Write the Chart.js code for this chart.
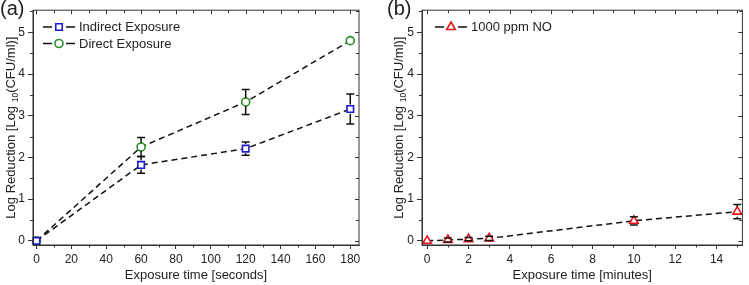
<!DOCTYPE html>
<html>
<head>
<meta charset="utf-8">
<script src="https://cdn.jsdelivr.net/npm/chart.js@4.4.1/dist/chart.umd.min.js"></script>
<style>
  body { margin: 0; background: #fff; }
  #wrap { position: relative; width: 749px; height: 285px; }
  .panel { position: absolute; top: 0; height: 285px; }
</style>
</head>
<body>
<div id="wrap">
  <div class="panel" style="left:0;width:375px"><canvas id="chartA"></canvas></div>
  <div class="panel" style="left:375px;width:374px"><canvas id="chartB"></canvas></div>
</div>
<script>
// panel (a) data
const timeSeconds = [0, 60, 120, 180];
const indirectExposure = [0, 1.82, 2.21, 3.16];
const indirectErr = [0, 0.2, 0.16, 0.36];
const directExposure = [0, 2.25, 3.33, 4.8];
const directErr = [0, 0.23, 0.3, 0];
const ticksSeconds = [0, 20, 40, 60, 80, 100, 120, 140, 160, 180];

// panel (b) data
const timeMinutes = [0, 1, 2, 3, 10, 15];
const no1000 = [0, 0.02, 0.04, 0.06, 0.48, 0.7];
const no1000Err = [0, 0.05, 0.04, 0.05, 0.1, 0.17];
const ticksMinutes = [0, 2, 4, 6, 8, 10, 12, 14];

const ticksLog = [0, 1, 2, 3, 4, 5];

const FONT = "'Liberation Sans', Arial, sans-serif";
const INK = '#222';

const toPoints = (xs, ys) => xs.map((x, i) => ({ x: x, y: ys[i] }));

// hollow marker like origin
function drawMarker(ctx, style, x, y, r, color) {
  ctx.save();
  ctx.setLineDash([]);
  ctx.lineWidth = 1.6;
  ctx.strokeStyle = color;
  ctx.fillStyle = '#fff';
  ctx.beginPath();
  if (style === 'rect') {
    const s = r * Math.SQRT1_2;
    ctx.rect(x - s, y - s, 2 * s, 2 * s);
  } else if (style === 'triangle') {
    ctx.moveTo(x, y - r);
    ctx.lineTo(x + r * 0.866, y + r * 0.5);
    ctx.lineTo(x - r * 0.866, y + r * 0.5);
    ctx.closePath();
  } else {
    ctx.arc(x, y, r, 0, Math.PI * 2);
  }
  ctx.fill();
  ctx.stroke();
  ctx.restore();
}

const framePlugin = {
  id: 'frame',
  afterDatasetsDraw(chart) {
    // error bars from the marker edge outwards
    const ctx = chart.ctx;
    const y = chart.scales.y;
    ctx.save();
    ctx.strokeStyle = '#111';
    ctx.lineWidth = 1.5;
    chart.data.datasets.forEach((ds, di) => {
      const meta = chart.getDatasetMeta(di);
      ds.data.forEach((p, i) => {
        const err = ds.errors[i];
        if (!err) return;
        const px = meta.data[i].x;
        const py = meta.data[i].y;
        const top = y.getPixelForValue(p.y + err);
        const bot = y.getPixelForValue(p.y - err);
        const r = ds.pointRadius;
        ctx.beginPath();
        if (py - r > top) { ctx.moveTo(px, top); ctx.lineTo(px, py - r); }
        if (py + r < bot) { ctx.moveTo(px, py + r); ctx.lineTo(px, bot); }
        ctx.moveTo(px - 4, top); ctx.lineTo(px + 4, top);
        ctx.moveTo(px - 4, bot); ctx.lineTo(px + 4, bot);
        ctx.stroke();
      });
    });
    ctx.restore();
  },
  afterDraw(chart, args, opts) {
    const ctx = chart.ctx;
    const { left, right, top, bottom } = chart.chartArea;
    const xs = chart.scales.x, ys = chart.scales.y;
    ctx.save();
    ctx.strokeStyle = '#333';
    ctx.lineWidth = 1;

    // box
    ctx.strokeRect(left, top, right - left, bottom - top);

    // minor ticks outside, mirrored ticks inside
    ctx.beginPath();
    for (let v = opts.xMinor; v <= xs.max; v += opts.xMinor) {
      const px = Math.round(xs.getPixelForValue(v)) + 0.5;
      const major = opts.xTicks.includes(v);
      if (!major) { ctx.moveTo(px, bottom); ctx.lineTo(px, bottom + 2.5); }
      ctx.moveTo(px, top); ctx.lineTo(px, top + (major ? 4 : 3));
    }
    ctx.moveTo(Math.round(xs.getPixelForValue(0)) + 0.5, top);
    ctx.lineTo(Math.round(xs.getPixelForValue(0)) + 0.5, top + 4);
    for (let v = 0; v <= ys.max; v += 0.5) {
      const py = Math.round(ys.getPixelForValue(v)) + 0.5;
      const major = v % 1 === 0;
      if (!major) { ctx.moveTo(left, py); ctx.lineTo(left - 3, py); }
      ctx.moveTo(right, py); ctx.lineTo(right - (major ? 4 : 3), py);
    }
    ctx.stroke();

    // legend
    ctx.font = '13px ' + FONT;
    ctx.fillStyle = INK;
    ctx.textBaseline = 'middle';
    chart.data.datasets.forEach((ds, i) => {
      const ly = opts.legendY + i * 16.5;
      const lx = opts.legendX;
      ctx.strokeStyle = '#111';
      ctx.lineWidth = 1.5;
      ctx.beginPath();
      ctx.moveTo(lx, ly); ctx.lineTo(lx + 9, ly);
      ctx.moveTo(lx + 23, ly); ctx.lineTo(lx + 32, ly);
      ctx.stroke();
      drawMarker(ctx, ds.pointStyle, lx + 16, ly, ds.pointRadius, ds.pointBorderColor);
      ctx.fillText(ds.label, lx + 36, ly + 0.5);
    });

    // panel letter
    ctx.font = '20px ' + FONT;
    ctx.textBaseline = 'top';
    ctx.fillText(opts.letter, opts.letterX, -1);

    // y title with subscript
    const p1 = 'Log Reduction [Log ', p2 = '10', p3 = '(CFU/ml)]';
    ctx.translate(opts.yTitleX, (top + bottom) / 2);
    ctx.rotate(-Math.PI / 2);
    ctx.textBaseline = 'alphabetic';
    ctx.font = '13px ' + FONT;
    const w1 = ctx.measureText(p1).width, w3 = ctx.measureText(p3).width;
    ctx.font = '8.5px ' + FONT;
    const w2 = ctx.measureText(p2).width;
    let tx = -(w1 + w2 + w3) / 2;
    ctx.font = '13px ' + FONT;
    ctx.fillText(p1, tx, 5);
    ctx.font = '8.5px ' + FONT;
    ctx.fillText(p2, tx + w1, 8);
    ctx.font = '13px ' + FONT;
    ctx.fillText(p3, tx + w1 + w2, 5);
    ctx.restore();
  }
};

function makeChart(id, datasets, o) {
  return new Chart(id, {
    type: 'line',
    data: { datasets: datasets },
    plugins: [framePlugin],
    options: {
      responsive: true,
      maintainAspectRatio: false,
      animation: false,
      layout: { padding: { top: 5, right: o.padRight, left: 0, bottom: 0 } },
      plugins: {
        legend: { display: false },
        tooltip: { enabled: false },
        frame: o.frame
      },
      scales: {
        x: {
          type: 'linear',
          min: o.xMin,
          max: o.xMax,
          afterBuildTicks: (s) => { s.ticks = o.xTicks.map(v => ({ value: v })); },
          afterFit: (s) => { s.height = 40; },
          grid: { drawOnChartArea: false, tickLength: 4, color: '#333' },
          border: { display: true, color: '#333' },
          ticks: { color: INK, padding: 3, maxRotation: 0, font: { size: 12, family: FONT } },
          title: {
            display: true,
            text: o.xTitle,
            color: INK,
            padding: { top: 0, bottom: 2 },
            font: { size: 13, family: FONT }
          }
        },
        y: {
          type: 'linear',
          min: -0.1,
          max: 5.53,
          afterBuildTicks: (s) => { s.ticks = ticksLog.map(v => ({ value: v })); },
          afterFit: (s) => { s.width = o.yWidth; },
          grid: { drawOnChartArea: false, tickLength: 5, color: '#333' },
          border: { display: true, color: '#333' },
          ticks: { color: INK, padding: 3, font: { size: 12, family: FONT } }
        }
      }
    }
  });
}

function series(label, pts, errs, style, radius, color) {
  return {
    label: label,
    data: pts,
    errors: errs,
    borderColor: '#111',
    borderWidth: 1.5,
    borderDash: [6, 4],
    pointStyle: style,
    pointRadius: radius,
    pointBorderColor: color,
    pointBackgroundColor: '#fff',
    pointBorderWidth: 1.6,
    clip: false,
    tension: 0
  };
}

makeChart('chartA', [
  series('Indirect Exposure', toPoints(timeSeconds, indirectExposure), indirectErr, 'rect', 4.6, '#1c1cc8'),
  series('Direct Exposure', toPoints(timeSeconds, directExposure), directErr, 'circle', 4, '#2a8f2a')
], {
  xMin: -2, xMax: 185, xTicks: ticksSeconds, xTitle: 'Exposure time [seconds]',
  yWidth: 33, padRight: 16,
  frame: { xMinor: 10, xTicks: ticksSeconds, legendX: 43, legendY: 27, letter: '(a)', letterX: 0, yTitleX: 10 }
});

makeChart('chartB', [
  series('1000 ppm NO', toPoints(timeMinutes, no1000), no1000Err, 'triangle', 5, '#e3141c')
], {
  xMin: -0.25, xMax: 15.25, xTicks: ticksMinutes, xTitle: 'Exposure time [minutes]',
  yWidth: 47, padRight: 1,
  frame: { xMinor: 1, xTicks: ticksMinutes, legendX: 60, legendY: 27, letter: '(b)', letterX: 12, yTitleX: 23 }
});
</script>
</body>
</html>
